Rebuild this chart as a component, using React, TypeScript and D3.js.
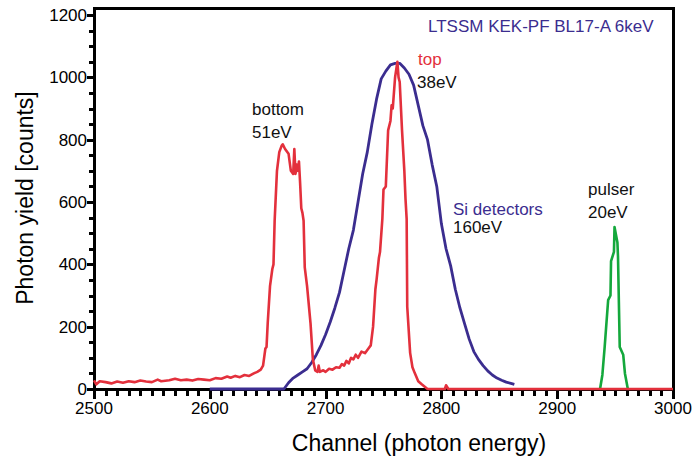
import * as d3 from "d3";

// Si detectors (sum), channel / counts
const siChannels = [2600, 2664, 2668, 2672, 2676, 2680, 2684, 2688, 2692, 2696, 2700, 2704, 2708, 2712, 2716, 2720, 2724, 2728, 2732, 2736, 2740, 2744, 2748, 2752, 2756, 2760, 2764, 2768, 2772, 2776, 2780, 2784, 2788, 2792, 2796, 2800, 2804, 2808, 2812, 2816, 2820, 2824, 2828, 2832, 2836, 2840, 2844, 2848, 2852, 2856, 2860, 2863];
const siCounts = [0, 0, 20, 35, 45, 55, 65, 85, 110, 140, 175, 215, 260, 310, 380, 450, 510, 600, 690, 760, 850, 930, 995, 1020, 1040, 1045, 1045, 1030, 1010, 975, 910, 845, 800, 720, 650, 530, 450, 395, 320, 260, 210, 160, 120, 95, 75, 58, 45, 35, 28, 22, 18, 15];

// top + bottom detectors
const stripChannels = [2500, 2502, 2505, 2510, 2515, 2520, 2525, 2530, 2535, 2540, 2545, 2550, 2555, 2558, 2565, 2570, 2575, 2580, 2585, 2590, 2595, 2600, 2605, 2610, 2615, 2618, 2622, 2626, 2630, 2634, 2638, 2641, 2644, 2646, 2648, 2649, 2650, 2652, 2654, 2655, 2656, 2658, 2660, 2662, 2663, 2665, 2668, 2670, 2672, 2673, 2674, 2675, 2676, 2677, 2678, 2679, 2680, 2681, 2682, 2684, 2687, 2689, 2691, 2693, 2694, 2695, 2698, 2700, 2703, 2706, 2709, 2712, 2714, 2716, 2718, 2720, 2722, 2724, 2726, 2728, 2731, 2734, 2737, 2739, 2741, 2743, 2744, 2746, 2747, 2749, 2750, 2752, 2754, 2756, 2757, 2758, 2760, 2762, 2763, 2764, 2766, 2768, 2769, 2770, 2770.5, 2773, 2775, 2777, 2780, 2783, 2788, 2803, 2804, 2806, 3000];
const stripCounts = [28, 15, 25, 22, 18, 24, 20, 25, 22, 27, 24, 22, 30, 25, 28, 33, 28, 30, 27, 32, 30, 28, 35, 33, 40, 36, 42, 38, 45, 42, 50, 55, 62, 75, 130, 135, 210, 330, 385, 400, 540, 700, 760, 780, 785, 770, 755, 700, 690, 770, 690, 720, 700, 730, 660, 580, 565, 540, 390, 330, 210, 95, 60, 55, 75, 55, 60, 55, 65, 62, 70, 68, 80, 75, 90, 82, 100, 95, 110, 100, 120, 115, 130, 140, 200, 320, 350, 420, 440, 545, 640, 650, 830, 860, 910, 900, 1000, 1050, 1000, 985, 830, 700, 610, 545, 264, 116, 70, 51, 25, 15, 0, 0, 12, 0, 0];

// pulser
const pulserChannels = [2937, 2939, 2941, 2944, 2946, 2946.5, 2949, 2949.5, 2952, 2952.5, 2954, 2957, 2958.5, 2961];
const pulserCounts = [0, 45, 135, 285, 300, 410, 440, 520, 470, 425, 135, 110, 50, 0];

const xTicks = [2500, 2600, 2700, 2800, 2900, 3000];
const yTicks = [0, 200, 400, 600, 800, 1000, 1200];

const labels = [
  { text: "LTSSM KEK-PF BL17-A 6keV", x: 428, y: 32, color: "#3b2d8f" },
  { text: "top", x: 418, y: 65, color: "#e3303c" },
  { text: "38eV", x: 417, y: 88, color: "#111" },
  { text: "bottom", x: 252, y: 115, color: "#111" },
  { text: "51eV", x: 252, y: 138, color: "#111" },
  { text: "Si detectors", x: 453, y: 215, color: "#3b2d8f" },
  { text: "160eV", x: 453, y: 233, color: "#111" },
  { text: "pulser", x: 588, y: 195, color: "#111" },
  { text: "20eV", x: 588, y: 218, color: "#111" },
];

const FONT = "'Liberation Sans', Arial, Helvetica, sans-serif";

const x = d3.scaleLinear().domain([2500, 3000]).range([94, 673]);
const y = d3.scaleLinear().domain([0, 1200]).range([389, 15]);
const frameTop = 8;

const series = [
  { cx: siChannels, cy: siCounts, color: "#3b2d8f", w: 2.8 },
  { cx: pulserChannels, cy: pulserCounts, color: "#14a83c", w: 2.6 },
  { cx: stripChannels, cy: stripCounts, color: "#e3303c", w: 2.6 },
];

export default function App() {
  const xMinor = d3.range(2500, 3001, 10);
  const yMinor = d3.range(0, 1201, 50);
  const x0 = Math.round(x(2500)), x1 = Math.round(x(3000)), y0 = Math.round(y(0));

  return (
    <svg width={692} height={459}
      style={{ position: "absolute", left: 0, top: 0, background: "#fff" }}>
      <g shapeRendering="crispEdges">
        {xMinor.map(c => (
          <rect key={"xt" + c} x={Math.round(x(c)) - 1} y={y0}
            width={3} height={c % 100 === 0 ? 10 : 7} fill="#000" />
        ))}
        {yMinor.map(v => {
          const len = v % 200 === 0 ? 7 : 5;
          return <rect key={"yt" + v} x={x0 - len} y={Math.round(y(v)) - 1}
            width={len} height={3} fill="#000" />;
        })}
        <rect x={x0 - 1} y={frameTop - 1} width={3} height={y0 - frameTop + 3} fill="#000" />
        <rect x={x1 - 1} y={frameTop - 1} width={3} height={y0 - frameTop + 3} fill="#000" />
        <rect x={x0 - 1} y={frameTop - 1} width={x1 - x0 + 3} height={3} fill="#000" />
        <rect x={x0 - 1} y={y0 - 1} width={x1 - x0 + 3} height={3} fill="#000" />
      </g>

      <g fontFamily={FONT}>
        {xTicks.map(c => (
          <text key={"xl" + c} x={x(c)} y={414} fontSize={17} textAnchor="middle">{c}</text>
        ))}
        {yTicks.map(v => (
          <text key={"yl" + v} x={87} y={y(v) + 6} fontSize={17} textAnchor="end">{v}</text>
        ))}
      </g>

      {series.map((s, k) => {
        const line = d3.line<number>()
          .x((_, i) => x(s.cx[i]))
          .y(d => y(d));
        return <path key={"s" + k} d={line(s.cy) ?? ""} fill="none"
          stroke={s.color} strokeWidth={s.w} strokeLinejoin="round" />;
      })}

      <g fontFamily={FONT}>
        {labels.map(l => (
          <text key={l.text} x={l.x} y={l.y} fontSize={17} fill={l.color}>{l.text}</text>
        ))}
        <text x={419} y={451} fontSize={23} textAnchor="middle">Channel (photon energy)</text>
        <text transform="translate(33,198) rotate(-90)" fontSize={23} textAnchor="middle">
          Photon yield [counts]
        </text>
      </g>
    </svg>
  );
}
